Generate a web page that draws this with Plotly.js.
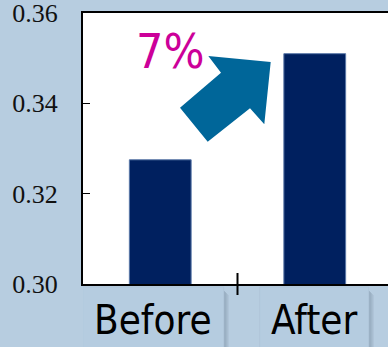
<!DOCTYPE html>
<html><head><meta charset="utf-8">
<script src="https://cdn.plot.ly/plotly-3.0.1.min.js"></script>
<style>html,body{margin:0;padding:0;overflow:hidden;background:#b7cde0;}#chart{width:396px;height:347px;}</style>
</head><body><div id="chart"></div>
<script>
// Data
const categories = ['Before', 'After'];
const values = [0.3275, 0.351];
const yTickVals = [0.30, 0.32, 0.34, 0.36];
const changeLabel = '7%';

const bg = '#b7cde0';
const trace = {
  type: 'bar', x: categories, y: values, width: 0.4,
  marker: {color: '#00205f', line: {color: '#5a78a8', width: 1}},
  hoverinfo: 'none'
};

const shapes = [
  // crossing category divider tick
  {type: 'line', xref: 'x', x0: 0.5, x1: 0.5, yref: 'paper', ysizemode: 'pixel', yanchor: 0, y0: -11, y1: 11,
   line: {color: '#000', width: 2}},
  // arrow
  {type: 'path', xref: 'paper', xsizemode: 'pixel', xanchor: 0, yref: 'paper', ysizemode: 'pixel', yanchor: 1,
   path: 'M97,-94.7 L124.7,-128.7 L167,-95.3 L181.3,-111.3 L187.7,-49 L125.3,-43 L138,-59.7 Z',
   fillcolor: '#006699', line: {width: 0}, layer: 'above'}
];
// label boxes with shadows
const boxes = [[-77.5, 63.5], [-55, 54]];
categories.forEach((c, i) => {
  const [a, b] = boxes[i];
  for (let k = 0; k < 5; k++) {
    shapes.push({type: 'rect', xref: 'x', xsizemode: 'pixel', xanchor: i, x0: b + k, x1: b + k + 1,
      yref: 'paper', ysizemode: 'pixel', yanchor: 0, y0: -7 - k, y1: -80,
      fillcolor: 'rgba(60,80,100,' + (0.3 - k * 0.055) + ')', line: {width: 0}, layer: 'above'});
  }
  shapes.push({type: 'rect', xref: 'x', xsizemode: 'pixel', xanchor: i, x0: a, x1: b,
    yref: 'paper', ysizemode: 'pixel', yanchor: 0, y0: -3, y1: -80,
    fillcolor: '#b5cce0', line: {color: '#afc5d9', width: 1}, layer: 'above'});
});

const annotations = categories.map((c, i) => ({
  text: c, xref: 'x', x: i, xshift: (boxes[i][0] + boxes[i][1]) / 2, yref: 'paper', y: 0, yshift: -36,
  yanchor: 'middle', xanchor: 'center', showarrow: false,
  font: {family: 'DejaVu Sans Condensed, DejaVu Sans, sans-serif', size: 40, color: '#000'}
}));
annotations.push({
  text: changeLabel, xref: 'paper', yref: 'paper', x: 0.2816, y: 0.86, xanchor: 'center', yanchor: 'middle',
  showarrow: false, font: {family: 'DejaVu Sans Condensed, DejaVu Sans, sans-serif', size: 48, color: '#cc0099'}
});

const layout = {
  width: 396, height: 347,
  margin: {l: 83, r: 4, t: 13, b: 63},
  paper_bgcolor: bg, plot_bgcolor: '#ffffff',
  showlegend: false,
  xaxis: {type: 'category', range: [-0.5, 1.5], showticklabels: false, ticks: '', showgrid: false,
    showline: true, linecolor: '#000', linewidth: 2, mirror: true, zeroline: false, fixedrange: true},
  yaxis: {range: [0.29999, 0.36001], tickvals: yTickVals, tickformat: '.2f', ticks: 'inside', ticklen: 7,
    tickcolor: '#000', tickwidth: 1.5, showgrid: false, zeroline: false, ticklabeloverflow: 'allow',
    showline: true, linecolor: '#000', linewidth: 2, mirror: true, ticklabelstandoff: 18,
    tickfont: {family: 'Liberation Serif, Times New Roman, serif', size: 26, color: '#111'}},
  shapes: shapes, annotations: annotations
};
Plotly.newPlot('chart', [trace], layout, {displayModeBar: false, staticPlot: true});
</script></body></html>
